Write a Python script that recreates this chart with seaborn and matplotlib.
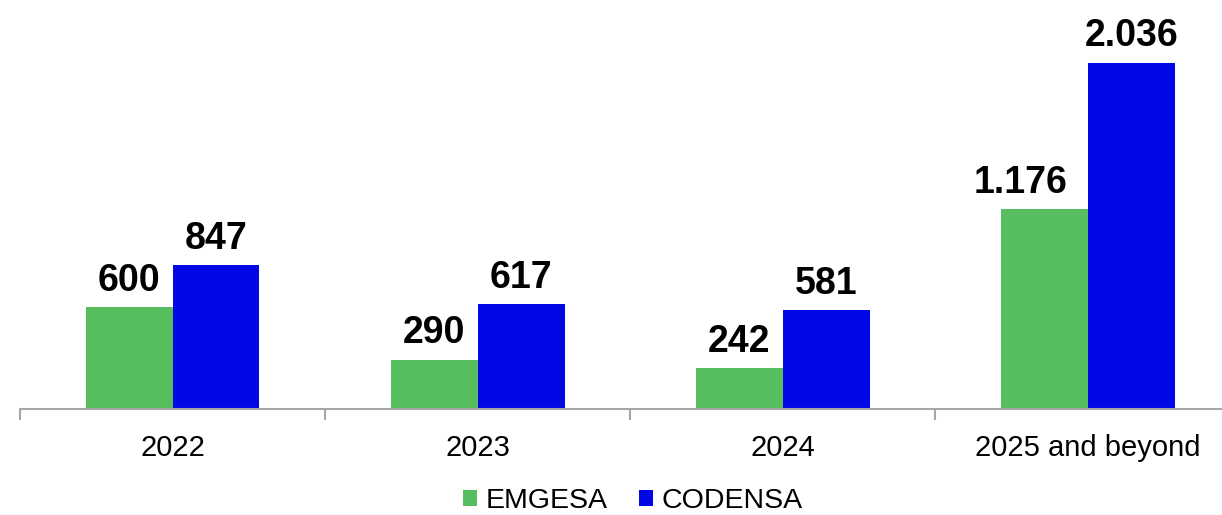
import pandas as pd
import matplotlib.pyplot as plt
import seaborn as sns

years = ["2022", "2023", "2024", "2025 and beyond"]
emgesa = [600, 290, 242, 1176]
codensa = [847, 617, 581, 2036]
series = ["EMGESA", "CODENSA"]
colors = ["#57BE5F", "#0008E6"]

df = pd.DataFrame({
    "Year": years * 2,
    "Company": ["EMGESA"] * len(years) + ["CODENSA"] * len(years),
    "Value": emgesa + codensa,
})

sns.set_theme(style="white")
plt.rcParams["font.family"] = ["Liberation Sans", "DejaVu Sans"]
plt.rcParams["text.color"] = "black"

fig = plt.figure(figsize=(12.22, 5.15), dpi=100)
ax = fig.add_axes([20 / 1222, 106 / 515, 1202 / 1222, 409 / 515])

sns.barplot(data=df, x="Year", y="Value", hue="Company", hue_order=series,
            order=years, palette=colors, saturation=1, width=0.57,
            linewidth=0, ax=ax)

# value labels with dot as thousands separator
for k, container in enumerate(ax.containers):
    labels = [f"{int(v):,}".replace(",", ".") for v in container.datavalues]
    anns = ax.bar_label(container, labels=labels, padding=6, fontsize=27,
                        fontweight="bold", color="black")
    # wide green labels are nudged left so they don't run into the blue bar
    if k == 0:
        for a, lab in zip(anns, labels):
            if len(lab) > 3:
                a.xyann = (-17, a.xyann[1])

ax.set_xlim(-0.5, 3.44)
ax.set_ylim(0, 2405)
ax.set_xlabel("")
ax.set_ylabel("")
ax.set_yticks([])

for side in ["top", "right", "left"]:
    ax.spines[side].set_visible(False)
ax.spines["bottom"].set_color("#A6A6A6")
ax.spines["bottom"].set_linewidth(1.5)

# ticks at category boundaries only
ax.set_xticks([i - 0.5 for i in range(len(years))], minor=True)
ax.tick_params(axis="x", which="minor", length=8, width=1.5, color="#A6A6A6",
               direction="out", bottom=True)
ax.tick_params(axis="x", which="major", length=0, labelsize=21, pad=18,
               labelcolor="black")

leg = ax.legend(loc="upper center", bbox_to_anchor=(0.51, -0.165), ncol=2,
                frameon=False, fontsize=20.5, handlelength=0.5, handleheight=0.5,
                handletextpad=0.3, columnspacing=1.1, borderaxespad=0)
for t in leg.get_texts():
    t.set_color("black")

fig.savefig("out.png", dpi=100)
